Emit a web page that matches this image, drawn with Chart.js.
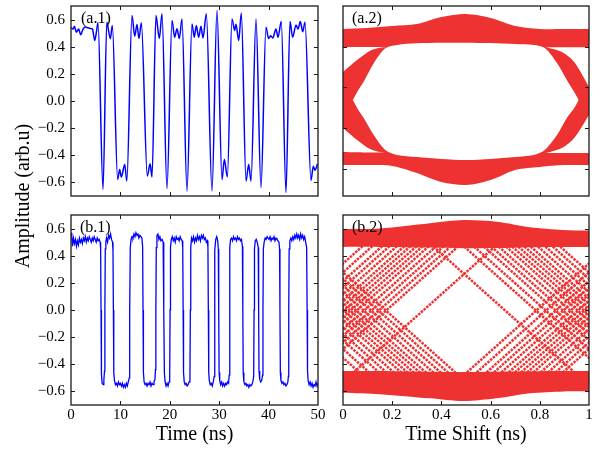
<!DOCTYPE html>
<html><head><meta charset="utf-8">
<script src="https://cdn.jsdelivr.net/npm/chart.js@4.4.1/dist/chart.umd.min.js"></script>
<style>
html,body{margin:0;padding:0;background:#fff;}
#wrap{position:relative;width:602px;height:450px;overflow:hidden;background:#fff;}
canvas{position:absolute;}
.pl{position:absolute;font-family:"Liberation Serif","DejaVu Serif",serif;font-size:16px;line-height:16px;color:#000;white-space:nowrap;}
#ylab{position:absolute;left:-127.75px;top:186px;width:300px;height:20px;line-height:20px;text-align:center;font-family:"Liberation Serif","DejaVu Serif",serif;font-size:20px;color:#000;transform:rotate(-90deg);white-space:nowrap;}
</style></head>
<body><div id="wrap">
<canvas id="tl" width="330" height="210" style="left:0;top:0"></canvas>
<canvas id="tr" width="272" height="210" style="left:330px;top:0"></canvas>
<canvas id="bl" width="330" height="245" style="left:0;top:205px"></canvas>
<canvas id="br" width="272" height="245" style="left:330px;top:205px"></canvas>
<div class="pl" style="left:81px;top:10px">(a.1)</div>
<div class="pl" style="left:352px;top:10px">(a.2)</div>
<div class="pl" style="left:80px;top:219px">(b.1)</div>
<div class="pl" style="left:352px;top:219px">(b.2)</div>
<div id="ylab">Amplitude (arb.u)</div>
</div>
<script>
// ---------------- tick labels ----------------
const Y_TICKS = [-0.6,-0.4,-0.2,0,0.2,0.4,0.6];
const Y_TICKS_EYE_A = [-0.5,-0.2,0.1,0.4];
const X_TICKS_TIME = [0,10,20,30,40,50];
const X_TICKS_SHIFT = [0,0.2,0.4,0.6,0.8,1];

// ---------------- (a.1) time trace [t(ns), amplitude] ----------------
const traceA1 = [
[0,0.54],[0.4,0.53],[0.7,0.55],[1.08,0.507],[1.55,0.53],[1.96,0.488],[2.43,0.53],[2.9,0.545],[3.4,0.54],[3.9,0.535],[4.35,0.53],[4.8,0.446],[5.2,0.52],[5.47,0.576],
[6.48,-0.651],
[7.25,0.58],[7.96,0.459],[8.37,0.556],
[9.45,-0.578],[9.85,-0.505],[10.19,-0.56],[10.87,-0.468],[11.3,-0.59],
[12.35,0.63],[12.9,0.478],[13.36,0.564],[13.76,0.46],[14.24,0.576],
[15.45,-0.553],[16.0,-0.463],[16.4,-0.56],
[17.2,0.63],[17.88,0.46],[18.42,0.642],
[19.43,-0.646],
[20.45,0.593],[20.98,0.47],[21.46,0.532],[21.93,0.46],[22.47,0.605],
[23.48,-0.663],
[24.49,0.568],[24.96,0.47],[25.36,0.556],[25.84,0.47],[26.31,0.55],[26.72,0.465],[27.4,0.642],
[28.54,-0.663],
[29.55,0.666],
[30.57,-0.578],[31.04,-0.431],[31.65,-0.56],
[32.59,0.605],[33.13,0.52],[33.4,0.565],[33.95,0.446],[34.48,0.649],
[35.43,-0.59],[35.97,-0.468],[36.44,-0.59],
[37.45,0.605],
[38.46,-0.638],
[39.47,0.544],[40.0,0.46],[40.4,0.48],[40.85,0.465],[41.5,0.53],[41.9,0.47],[42.57,0.585],
[43.52,-0.675],
[44.33,0.585],[44.87,0.47],[45.55,0.56],[45.95,0.53],[46.42,0.585],[46.9,0.51],[47.37,0.58],
[48.58,-0.585],[49.05,-0.48],[49.4,-0.51],[49.9,-0.462]
];

// ---------------- (b.1) time trace [t(ns), amplitude] ----------------
const traceB1 = [
[0,0.57],[0.15,0.55],[0.3,0.47],[0.5,0.53],[0.7,0.49],[0.9,0.52],[1.1,0.47],[1.3,0.51],[1.5,0.48],[1.7,0.53],[1.9,0.5],[2.1,0.52],[2.3,0.49],[2.5,0.53],[2.7,0.51],[2.9,0.54],[3.1,0.5],[3.3,0.53],[3.5,0.51],[3.7,0.54],[3.9,0.52],[4.1,0.5],[4.3,0.53],[4.5,0.51],[4.7,0.54],[4.9,0.52],[5.1,0.5],[5.3,0.53],[5.5,0.51],[5.7,0.52],[5.9,0.5],
[6.0,0.45],[6.08,0.0],[6.16,-0.47],[6.3,-0.54],[6.5,-0.55],[6.65,-0.52],
[6.78,-0.45],[6.86,0.0],[6.94,0.45],
[7.05,0.5],[7.2,0.53],[7.4,0.5],[7.6,0.55],[7.8,0.53],[8.0,0.56],[8.2,0.52],[8.4,0.5],
[8.5,0.44],[8.58,0.0],[8.66,-0.46],
[8.8,-0.52],[9.0,-0.55],[9.2,-0.54],[9.4,-0.56],[9.6,-0.53],[9.8,-0.55],[10.0,-0.54],[10.2,-0.56],[10.4,-0.54],[10.6,-0.57],[10.8,-0.55],[11.0,-0.57],[11.2,-0.54],[11.4,-0.56],[11.6,-0.53],[11.8,-0.5],
[11.84,-0.44],[11.92,0.0],[12.0,0.46],
[12.15,0.52],[12.35,0.54],[12.55,0.53],[12.75,0.56],[12.95,0.54],[13.15,0.57],[13.35,0.55],[13.55,0.56],[13.75,0.53],[13.95,0.55],[14.15,0.54],[14.35,0.53],[14.5,0.47],
[14.58,0.0],[14.66,-0.46],
[14.8,-0.53],[15.0,-0.55],[15.2,-0.54],[15.4,-0.56],[15.6,-0.54],[15.8,-0.55],[16.0,-0.53],[16.2,-0.56],[16.4,-0.54],[16.6,-0.55],[16.8,-0.53],[17.0,-0.51],
[17.1,-0.44],[17.18,0.0],[17.26,0.46],
[17.4,0.55],[17.6,0.56],[17.8,0.52],[18.0,0.54],[18.2,0.51],[18.45,0.52],[18.65,0.5],
[18.74,0.44],[18.82,0.0],[18.9,-0.46],
[19.05,-0.53],[19.25,-0.56],[19.45,-0.54],[19.65,-0.56],[19.85,-0.53],[19.98,-0.49],
[20.06,0.0],[20.14,0.46],
[20.3,0.52],[20.5,0.54],[20.7,0.51],[20.9,0.53],[21.1,0.5],[21.3,0.54],[21.5,0.52],[21.7,0.53],[21.9,0.51],[22.1,0.54],[22.3,0.52],[22.5,0.51],[22.62,0.46],
[22.7,0.0],[22.78,-0.46],
[22.92,-0.53],[23.1,-0.55],[23.3,-0.54],[23.5,-0.56],[23.7,-0.55],[23.9,-0.53],[24.08,-0.48],
[24.16,0.0],[24.24,0.46],
[24.4,0.53],[24.6,0.51],[24.8,0.54],[25.0,0.5],[25.2,0.53],[25.4,0.51],[25.6,0.55],[25.8,0.52],[26.0,0.54],[26.2,0.51],[26.4,0.55],[26.6,0.53],[26.8,0.55],[27.0,0.52],[27.2,0.53],[27.4,0.5],[27.6,0.51],[27.72,0.46],
[27.8,0.0],[27.88,-0.46],
[28.0,-0.52],[28.2,-0.55],[28.4,-0.54],[28.6,-0.56],[28.8,-0.53],[28.98,-0.49],
[29.06,0.0],[29.14,0.44],
[29.3,0.52],[29.5,0.54],[29.7,0.51],[29.82,0.45],
[29.9,0.0],[29.98,-0.46],
[30.1,-0.52],[30.3,-0.55],[30.5,-0.53],[30.7,-0.56],[30.9,-0.54],[31.1,-0.56],[31.3,-0.54],[31.5,-0.55],[31.7,-0.53],[31.9,-0.54],[32.02,-0.48],
[32.1,0.0],[32.18,0.46],
[32.3,0.52],[32.5,0.53],[32.7,0.51],[32.9,0.54],[33.1,0.52],[33.3,0.53],[33.5,0.51],[33.7,0.54],[33.9,0.52],[34.1,0.53],[34.3,0.51],[34.5,0.52],[34.7,0.47],
[34.78,0.0],[34.86,-0.46],
[35.0,-0.53],[35.2,-0.55],[35.4,-0.54],[35.6,-0.56],[35.8,-0.55],[36.0,-0.57],[36.2,-0.55],[36.4,-0.56],[36.6,-0.55],[36.8,-0.53],[36.98,-0.49],
[37.06,0.0],[37.14,0.45],
[37.3,0.51],[37.5,0.52],[37.7,0.5],[37.9,0.46],
[37.98,0.0],[38.06,-0.45],
[38.2,-0.51],[38.4,-0.53],[38.6,-0.52],[38.78,-0.48],
[38.86,0.0],[38.94,0.45],
[39.1,0.5],[39.3,0.53],[39.5,0.52],[39.7,0.54],[39.9,0.53],[40.1,0.52],[40.3,0.54],[40.5,0.51],[40.7,0.53],[40.9,0.52],[41.1,0.54],[41.3,0.51],[41.5,0.53],[41.7,0.52],[41.9,0.51],[42.1,0.5],[42.22,0.45],
[42.3,0.0],[42.38,-0.46],
[42.5,-0.52],[42.7,-0.54],[42.9,-0.53],[43.1,-0.55],[43.3,-0.54],[43.5,-0.56],[43.7,-0.55],[43.9,-0.53],[44.0,-0.49],
[44.08,0.0],[44.16,0.45],
[44.3,0.51],[44.5,0.53],[44.7,0.51],[44.9,0.54],[45.1,0.52],[45.3,0.55],[45.5,0.53],[45.7,0.56],[45.9,0.53],[46.1,0.55],[46.3,0.52],[46.5,0.56],[46.7,0.53],[46.9,0.55],[47.1,0.52],[47.3,0.54],[47.5,0.5],[47.7,0.46],
[47.8,0.0],[47.88,-0.45],
[48.0,-0.52],[48.2,-0.55],[48.4,-0.53],[48.6,-0.56],[48.8,-0.54],[49.0,-0.57],[49.2,-0.55],[49.4,-0.56],[49.6,-0.53],[49.8,-0.56],[50.0,-0.54]
];

// ---------------- (a.2) eye diagram region outlines ----------------
const eyeA_envX     = [0,0.1,0.2,0.3,0.4,0.5,0.6,0.7,0.8,0.9,1.0];
const eyeA_envTop   = [0.531,0.538,0.553,0.567,0.619,0.641,0.612,0.553,0.531,0.531,0.531];
const eyeA_envBot   = [-0.472,-0.472,-0.479,-0.531,-0.597,-0.619,-0.582,-0.508,-0.486,-0.472,-0.472];
const eyeA_openX    = [0.04,0.06,0.084,0.125,0.172,0.22,0.3,0.4,0.5,0.6,0.7,0.775,0.82,0.87,0.91,0.94,0.958];
const eyeA_openTop  = [0.007,0.074,0.142,0.278,0.388,0.413,0.425,0.429,0.43,0.427,0.42,0.413,0.391,0.28,0.155,0.066,0.007];
const eyeA_openBot  = [0.007,-0.059,-0.125,-0.251,-0.361,-0.398,-0.413,-0.427,-0.435,-0.427,-0.413,-0.398,-0.361,-0.251,-0.125,-0.052,0.007];
const eyeA_ulX = [0,0.057,0.11,0.15,0.175];
const eyeA_ulTop = [0.396,0.398,0.398,0.398,0.398];
const eyeA_ulBot = [0.214,0.302,0.371,0.393,0.398];
const eyeA_llX = [0,0.057,0.11,0.15,0.175];
const eyeA_llTop = [-0.199,-0.287,-0.354,-0.376,-0.38];
const eyeA_llBot = [-0.376,-0.378,-0.38,-0.38,-0.38];
const eyeA_urX = [0.825,0.89,0.94,1.0];
const eyeA_urTop = [0.396,0.396,0.396,0.396];
const eyeA_urBot = [0.396,0.361,0.287,0.103];
const eyeA_lrX = [0.825,0.89,0.94,1.0];
const eyeA_lrTop = [-0.383,-0.346,-0.273,-0.103];
const eyeA_lrBot = [-0.383,-0.383,-0.383,-0.383];

// ---------------- (b.2) eye diagram ----------------
const eyeB_bandX      = [0,0.15,0.354,0.49,0.625,0.76,0.896,1.0];
const eyeB_hiTop      = [0.595,0.6,0.639,0.663,0.65,0.61,0.59,0.585];
const eyeB_hiBot      = [0.465,0.465,0.46,0.455,0.457,0.463,0.465,0.465];
const eyeB_loTop      = [-0.45,-0.45,-0.455,-0.457,-0.455,-0.452,-0.45,-0.45];
const eyeB_loBot      = [-0.609,-0.62,-0.651,-0.671,-0.651,-0.614,-0.6,-0.6];
const eyeB_hiLevel = 0.52, eyeB_loLevel = -0.53;
// falling traces: [x where it leaves the upper rail, x where it reaches the lower rail]
const eyeB_fall = [
[-0.54,0.11],[-0.5,0.15],[-0.46,0.19],[-0.43,0.22],[-0.4,0.25],[-0.37,0.28],[-0.345,0.305],[-0.32,0.33],[-0.295,0.355],[-0.27,0.38],[-0.24,0.41],[-0.21,0.44],[-0.18,0.47],[-0.15,0.5],
[0.335,0.985],
[0.46,1.11],[0.5,1.15],[0.54,1.19],[0.57,1.22],[0.6,1.25],[0.63,1.28],[0.655,1.305],[0.68,1.33],[0.705,1.355],[0.73,1.38],[0.76,1.41],[0.79,1.44],[0.82,1.47],[0.85,1.5]];
// rising traces: [x where it leaves the lower rail, x where it reaches the upper rail]
const eyeB_rise = [
[-0.54,0.11],[-0.5,0.15],[-0.46,0.19],[-0.43,0.22],[-0.4,0.25],[-0.37,0.28],[-0.345,0.305],[-0.32,0.33],[-0.295,0.355],[-0.27,0.38],[-0.24,0.41],[-0.21,0.44],[-0.18,0.47],[-0.15,0.5],
[0.0,0.65],
[0.46,1.11],[0.5,1.15],[0.54,1.19],[0.57,1.22],[0.6,1.25],[0.63,1.28],[0.655,1.305],[0.68,1.33],[0.705,1.355],[0.73,1.38],[0.76,1.41],[0.79,1.44],[0.82,1.47],[0.85,1.5]];

// ---------------- styling ----------------
const SERIF = '"Liberation Serif","DejaVu Serif",serif';
const BLUE = '#0000ff';
const RED = 'rgb(238,50,50)';
const FRAME = '#1a1a1a';

const fmtY = v => (Math.abs(v) < 1e-9 ? '0.0' : v.toFixed(1)).replace('-', '\u2212');
const fmtTime = v => String(v);
const fmtShift = v => (v === 0 ? '0' : v === 1 ? '1' : v.toFixed(1));

const framePlugin = {
  id: 'frame',
  afterDatasetsDraw(chart) {
    const {ctx, chartArea: a} = chart;
    const xs = chart.scales.x, ys = chart.scales.y;
    ctx.save();
    ctx.strokeStyle = FRAME;
    ctx.lineWidth = 1;
    ctx.beginPath();
    for (const t of xs.ticks) {
      const p = Math.round(xs.getPixelForValue(t.value)) + 0.5;
      if (p <= a.left + 1.5 || p >= a.right - 1.5) continue;
      ctx.moveTo(p, a.bottom); ctx.lineTo(p, a.bottom - 4);
      ctx.moveTo(p, a.top); ctx.lineTo(p, a.top + 4);
    }
    for (const t of ys.ticks) {
      const p = Math.round(ys.getPixelForValue(t.value)) + 0.5;
      if (p <= a.top + 1.5 || p >= a.bottom - 1.5) continue;
      ctx.moveTo(a.left, p); ctx.lineTo(a.left + 4, p);
      ctx.moveTo(a.right, p); ctx.lineTo(a.right - 4, p);
    }
    ctx.stroke();
    ctx.lineWidth = 1.3;
    ctx.strokeRect(a.left, a.top, a.right - a.left, a.bottom - a.top);
    ctx.restore();
  }
};

function axisX(min, max, ticks, fmt, showLabels, title, height) {
  return {
    type: 'linear', position: 'bottom', min, max,
    grid: {display: false, drawTicks: false}, border: {display: false},
    afterBuildTicks: s => { s.ticks = ticks.map(v => ({value: v})); },
    afterFit: s => { s.height = height; s.paddingLeft = 0; s.paddingRight = 0; },
    ticks: {display: showLabels, padding: 1, autoSkip: false, maxRotation: 0, color: '#000',
            font: {family: SERIF, size: 15}, callback: v => fmt(v)},
    title: {display: !!title, text: title || '', color: '#000', font: {family: SERIF, size: 20},
            padding: {top: 0, bottom: 3}}
  };
}
function axisY(min, max, ticks, showLabels, width) {
  return {
    type: 'linear', position: 'left', min, max,
    grid: {display: false, drawTicks: false}, border: {display: false},
    afterBuildTicks: s => { s.ticks = ticks.map(v => ({value: v})); },
    afterFit: s => { s.width = width; s.paddingTop = 0; s.paddingBottom = 0; },
    ticks: {display: showLabels, padding: 6, autoSkip: false, color: '#000',
            font: {family: SERIF, size: 15}, callback: v => fmtY(v)}
  };
}
function makeChart(id, datasets, xAxis, yAxis, pad) {
  return new Chart(document.getElementById(id), {
    type: 'line',
    data: {datasets},
    options: {
      responsive: false, animation: false, events: [],
      layout: {padding: pad},
      scales: {x: xAxis, y: yAxis},
      plugins: {legend: {display: false}, tooltip: {enabled: false}},
      elements: {point: {radius: 0}}
    },
    plugins: [framePlugin]
  });
}
const pts = (xs, ys) => xs.map((x, i) => ({x, y: ys[i]}));
function regionPair(xs, top, bot, color, smooth) {
  return [
    {data: pts(xs, top), borderWidth: 0, borderColor: 'transparent', pointRadius: 0, fill: false, tension: smooth},
    {data: pts(xs, bot), borderWidth: 0, borderColor: 'transparent', pointRadius: 0, fill: '-1', backgroundColor: color, tension: smooth}
  ];
}

// (a.1)
makeChart('tl',
  [{data: traceA1.map(p => ({x: p[0], y: p[1]})), borderColor: BLUE, borderWidth: 1.5, pointRadius: 0,
    cubicInterpolationMode: 'monotone', fill: false}],
  axisX(0, 50, X_TICKS_TIME, fmtTime, false, '', 14),
  axisY(-0.7, 0.7, Y_TICKS, true, 71),
  {left: 0, top: 6, right: 12, bottom: 0});

// (a.2)
makeChart('tr',
  [].concat(
    regionPair(eyeA_openX, eyeA_openTop, eyeA_openBot, '#fff', 0.3),
    regionPair(eyeA_ulX, eyeA_ulTop, eyeA_ulBot, '#fff', 0.3),
    regionPair(eyeA_llX, eyeA_llTop, eyeA_llBot, '#fff', 0.3),
    regionPair(eyeA_urX, eyeA_urTop, eyeA_urBot, '#fff', 0.3),
    regionPair(eyeA_lrX, eyeA_lrTop, eyeA_lrBot, '#fff', 0.3),
    regionPair(eyeA_envX, eyeA_envTop, eyeA_envBot, RED, 0.3)
  ),
  axisX(0, 1, X_TICKS_SHIFT, fmtShift, false, '', 14),
  axisY(-0.7, 0.7, Y_TICKS_EYE_A, false, 13),
  {left: 0, top: 6, right: 13, bottom: 0});

// (b.1)
makeChart('bl',
  [{data: traceB1.map(p => ({x: p[0], y: p[1]})), borderColor: BLUE, borderWidth: 1.3, pointRadius: 0,
    tension: 0, fill: false}],
  axisX(0, 50, X_TICKS_TIME, fmtTime, true, 'Time (ns)', 45),
  axisY(-0.7, 0.7, Y_TICKS, true, 71),
  {left: 0, top: 10, right: 12, bottom: 0});

// (b.2)
const traceSets = [];
for (const f of eyeB_fall) traceSets.push({data: [{x: f[0], y: eyeB_hiLevel}, {x: f[1], y: eyeB_loLevel}],
  borderColor: RED, borderWidth: 2.5, borderDash: [2.5, 1.1], pointRadius: 0, fill: false, clip: 0});
for (const r of eyeB_rise) traceSets.push({data: [{x: r[0], y: eyeB_loLevel}, {x: r[1], y: eyeB_hiLevel}],
  borderColor: RED, borderWidth: 2.5, borderDash: [2.5, 1.1], pointRadius: 0, fill: false, clip: 0});
makeChart('br',
  [].concat(
    regionPair(eyeB_bandX, eyeB_hiTop, eyeB_hiBot, RED, 0.3),
    regionPair(eyeB_bandX, eyeB_loTop, eyeB_loBot, RED, 0.3),
    traceSets
  ),
  axisX(0, 1, X_TICKS_SHIFT, fmtShift, true, 'Time Shift (ns)', 45),
  axisY(-0.7, 0.7, Y_TICKS, false, 13),
  {left: 0, top: 10, right: 13, bottom: 0});
</script>
</body></html>
